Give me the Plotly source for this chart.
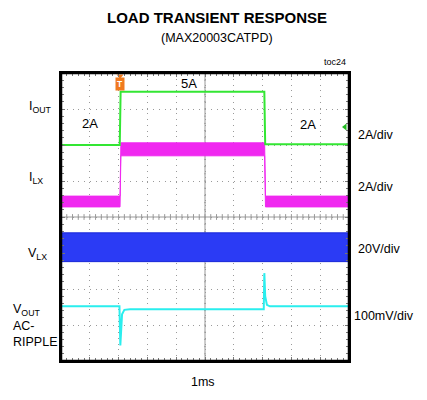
import plotly.graph_objects as go

# ---- data (x in divisions of 1 ms, y in screen divisions 0..8) ----
t_iout = [0, 2.04, 2.07, 7.06, 7.09, 10]
v_iout = [6.0, 6.0, 7.48, 7.48, 6.02, 6.02]

t_ilx = [0, 2.05, 2.08, 7.07, 7.10, 10]
ilx_upper = [4.58, 4.58, 6.06, 6.06, 4.58, 4.58]
ilx_lower = [4.28, 4.28, 5.70, 5.70, 4.28, 4.28]

t_vlx = [0, 10]
vlx_upper = [3.56, 3.56]
vlx_lower = [2.76, 2.76]

t_vout = [0, 2.03, 2.06, 2.08, 2.12, 2.2, 2.4, 7.04, 7.06, 7.09, 7.15, 7.25, 10]
v_vout = [1.52, 1.52, 0.43, 0.9, 1.3, 1.42, 1.44, 1.44, 2.44, 1.8, 1.56, 1.52, 1.52]

trigger_t = 2.05
trigger_level = 6.5

GREEN = "#33e633"
MAGENTA = "#f028f0"
BLUE = "#2b3bf5"
CYAN = "#2aeeee"
ORANGE = "#f07a1e"
FONT = "Liberation Sans, Arial, sans-serif"

W, H = 427, 400
L, R, T, B = 61, 78, 73, 39
PW, PH = W - L - R, H - T - B

def px(x):
    return (x - L) / PW

def py(y):
    return (H - B - y) / PH

fig = go.Figure()

# VLX band
fig.add_trace(go.Scatter(
    x=t_vlx + t_vlx[::-1], y=vlx_upper + vlx_lower[::-1],
    fill="toself", fillcolor=BLUE, mode="lines",
    line=dict(color="#1a28d8", width=1), hoverinfo="skip"))

# ILX band
fig.add_trace(go.Scatter(
    x=t_ilx + t_ilx[::-1], y=ilx_upper + ilx_lower[::-1],
    fill="toself", fillcolor=MAGENTA, mode="lines",
    line=dict(color=MAGENTA, width=1), hoverinfo="skip"))

# IOUT
fig.add_trace(go.Scatter(x=t_iout, y=v_iout, mode="lines",
                         line=dict(color=GREEN, width=2), hoverinfo="skip"))

# VOUT ripple
fig.add_trace(go.Scatter(x=t_vout, y=v_vout, mode="lines",
                         line=dict(color=CYAN, width=2), hoverinfo="skip"))

# trigger markers
fig.add_trace(go.Scatter(x=[trigger_t], y=[7.92], mode="markers", cliponaxis=False,
                         marker=dict(symbol="triangle-down", size=6, color=ORANGE),
                         hoverinfo="skip"))
fig.add_trace(go.Scatter(x=[9.86], y=[trigger_level], mode="markers", cliponaxis=False,
                         marker=dict(symbol="triangle-left", size=6, color="#22bb22"),
                         hoverinfo="skip"))

# center cross lines with minor ticks
shapes = [
    dict(type="line", xref="x", yref="y", x0=5, x1=5, y0=0, y1=8,
         line=dict(color="#999999", width=1), layer="below"),
    dict(type="line", xref="x", yref="y", x0=0, x1=10, y0=4, y1=4,
         line=dict(color="#999999", width=1), layer="below"),
]
path = ""
for i in range(1, 50):
    x = i * 0.2
    path += f"M{x:.2f},3.92 L{x:.2f},4.08 "
for i in range(1, 40):
    y = i * 0.2
    path += f"M4.972,{y:.2f} L5.028,{y:.2f} "
shapes.append(dict(type="path", xref="x", yref="y", path=path,
                   line=dict(color="#999999", width=1), layer="below"))
# frame
shapes.append(dict(type="rect", xref="paper", yref="paper", x0=0, x1=1, y0=0, y1=1,
                   line=dict(color="black", width=2.5)))

def ann(text, x, y, size=12.5, xanchor="center", bold=False, **kw):
    return dict(text=f"<b>{text}</b>" if bold else text, x=px(x), y=py(y),
                xref="paper", yref="paper",
                xanchor=xanchor, yanchor="middle", showarrow=False,
                font=dict(family=FONT, size=size, color="black"), **kw)

annotations = [
    ann("LOAD TRANSIENT RESPONSE", 216.5, 18, size=15, bold=True),
    ann("(MAX20003CATPD)", 216.5, 37.5, size=12.5),
    ann("toc24", 334.5, 62, size=9),
    ann("5A", 189, 83, size=13),
    ann("2A", 90, 123, size=13),
    ann("2A", 308, 124, size=13),
    ann("2A/div", 356, 135, size=12.5, xanchor="left"),
    ann("2A/div", 356, 187, size=12.5, xanchor="left"),
    ann("20V/div", 356, 249, size=12.5, xanchor="left"),
    ann("100mV/div", 352, 316, size=12.5, xanchor="left"),
    ann("I<sub>OUT</sub>", 27, 107, size=12.5, xanchor="left"),
    ann("I<sub>LX</sub>", 27, 178, size=12.5, xanchor="left"),
    ann("V<sub>LX</sub>", 26, 254, size=12.5, xanchor="left"),
    ann("V<sub>OUT</sub>", 11, 310, size=12.5, xanchor="left"),
    ann("AC-", 11, 326, size=12.5, xanchor="left"),
    ann("RIPPLE", 11, 342, size=12.5, xanchor="left"),
    ann("1ms", 203, 382, size=12.5),
    dict(text="<b>T</b>", x=trigger_t, xref="x", y=py(83.5), yref="paper",
         xanchor="center", yanchor="middle", showarrow=False, bgcolor=ORANGE,
         borderpad=1, font=dict(family=FONT, size=8.5, color="white")),
]

axis_common = dict(showline=True, linecolor="black", linewidth=2, mirror="allticks",
                   ticks="inside", ticklen=4, tickcolor="#777", showticklabels=False,
                   showgrid=True, gridcolor="#9a9a9a", gridwidth=1, griddash="1px,4.76px",
                   zeroline=False, dtick=1, fixedrange=True,
                   minor=dict(ticks="inside", ticklen=3, dtick=0.2, tickcolor="#777", showgrid=False))

fig.update_layout(
    width=W, height=H,
    margin=dict(l=L, r=R, t=T, b=B),
    paper_bgcolor="white", plot_bgcolor="white",
    showlegend=False,
    xaxis=dict(range=[0, 10], **axis_common),
    yaxis=dict(range=[0, 8], **axis_common),
    shapes=shapes, annotations=annotations,
)

fig.write_html("out.html", config={"displayModeBar": False},
               post_script="document.body.style.margin='0';")
